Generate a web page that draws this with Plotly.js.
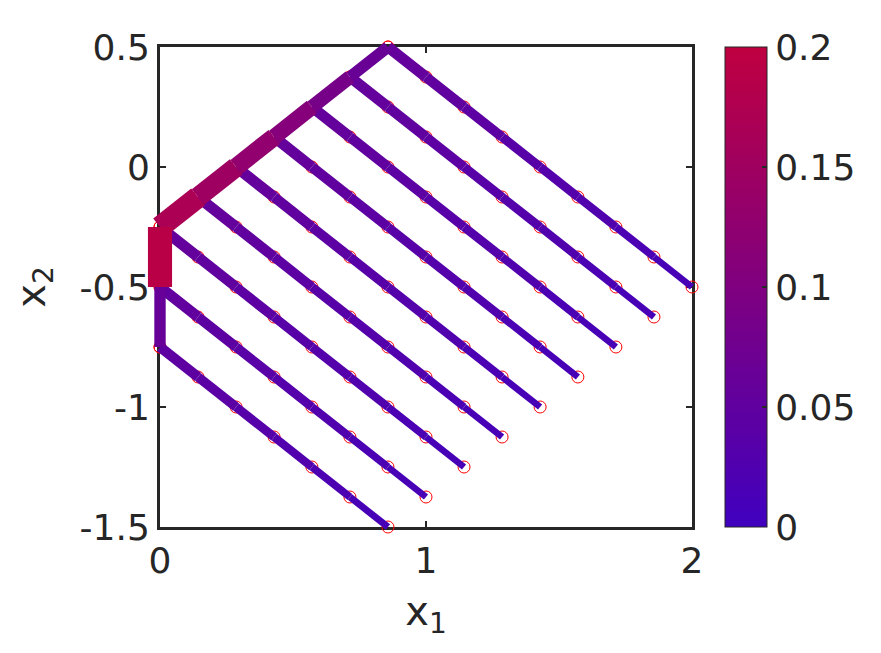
<!DOCTYPE html>
<html>
<head>
<meta charset="utf-8">
<script src="https://cdn.plot.ly/plotly-3.0.1.min.js"></script>
<style>html,body{margin:0;padding:0;background:#fff;}#chart{width:881px;height:653px;}</style>
</head>
<body>
<div id="chart"></div>
<script>
// ---- data: branch node coordinates ----
const branchX = [
  [0.857, 1.000, 1.143, 1.286, 1.429, 1.571, 1.714, 1.857, 2.000],
  [0.714, 0.857, 1.000, 1.143, 1.286, 1.429, 1.571, 1.714, 1.857],
  [0.571, 0.714, 0.857, 1.000, 1.143, 1.286, 1.429, 1.571, 1.714],
  [0.429, 0.571, 0.714, 0.857, 1.000, 1.143, 1.286, 1.429, 1.571],
  [0.286, 0.429, 0.571, 0.714, 0.857, 1.000, 1.143, 1.286, 1.429],
  [0.143, 0.286, 0.429, 0.571, 0.714, 0.857, 1.000, 1.143, 1.286],
  [0.000, 0.143, 0.286, 0.429, 0.571, 0.714, 0.857, 1.000, 1.143],
  [0.000, 0.143, 0.286, 0.429, 0.571, 0.714, 0.857, 1.000],
  [0.000, 0.143, 0.286, 0.429, 0.571, 0.714, 0.857]
];
const branchY = [
  [0.500, 0.375, 0.250, 0.125, 0.000, -0.125, -0.250, -0.375, -0.500],
  [0.375, 0.250, 0.125, 0.000, -0.125, -0.250, -0.375, -0.500, -0.625],
  [0.250, 0.125, 0.000, -0.125, -0.250, -0.375, -0.500, -0.625, -0.750],
  [0.125, 0.000, -0.125, -0.250, -0.375, -0.500, -0.625, -0.750, -0.875],
  [0.000, -0.125, -0.250, -0.375, -0.500, -0.625, -0.750, -0.875, -1.000],
  [-0.125, -0.250, -0.375, -0.500, -0.625, -0.750, -0.875, -1.000, -1.125],
  [-0.250, -0.375, -0.500, -0.625, -0.750, -0.875, -1.000, -1.125, -1.250],
  [-0.500, -0.625, -0.750, -0.875, -1.000, -1.125, -1.250, -1.375],
  [-0.750, -0.875, -1.000, -1.125, -1.250, -1.375, -1.500]
];
// per-segment values along each branch (start -> end)
const branchVals = [
  [0.056, 0.050, 0.044, 0.038, 0.032, 0.026, 0.019, 0.012],
  [0.056, 0.050, 0.044, 0.038, 0.032, 0.026, 0.019, 0.012],
  [0.056, 0.050, 0.044, 0.038, 0.032, 0.026, 0.019, 0.012],
  [0.056, 0.050, 0.044, 0.038, 0.032, 0.026, 0.019, 0.012],
  [0.056, 0.050, 0.044, 0.038, 0.032, 0.026, 0.019, 0.012],
  [0.056, 0.050, 0.044, 0.038, 0.032, 0.026, 0.019, 0.012],
  [0.056, 0.050, 0.044, 0.038, 0.032, 0.026, 0.019, 0.012],
  [0.052, 0.046, 0.040, 0.033, 0.026, 0.019, 0.012],
  [0.048, 0.042, 0.035, 0.028, 0.020, 0.013]
];
// spine: top edge then the left edge
const spineX = [0.857, 0.714, 0.571, 0.429, 0.286, 0.143, 0.000, 0.000, 0.000];
const spineY = [0.500, 0.375, 0.250, 0.125, 0.000, -0.125, -0.250, -0.500, -0.750];
const spineVals = [0.064, 0.086, 0.108, 0.128, 0.148, 0.168, 0.190, 0.060];

const cMin = 0, cMax = 0.2;
const xRange = [0, 2], yRange = [-1.5, 0.5];
const xTicks = [0, 1, 2], xTickText = ['0', '1', '2'];
const yTicks = [0.5, 0, -0.5, -1, -1.5], yTickText = ['0.5', '0', '-0.5', '-1', '-1.5'];
const cbTicks = [0, 0.05, 0.1, 0.15, 0.2], cbTickText = ['0', '0.05', '0.1', '0.15', '0.2'];

// ---- layout geometry (pixels) ----
const W = 881, H = 653;
const box = {l: 160, r: 692, t: 47, b: 527};
const pad = 40; // extra room so thick lines are not clipped at the frame
const pxX = (box.r - box.l) / (xRange[1] - xRange[0]);
const pxY = (box.b - box.t) / (yRange[1] - yRange[0]);

// ---- styling helpers ----
const cLow = [64, 0, 191], cHigh = [191, 0, 64];
function colorOf(v) {
  const t = Math.max(0, Math.min(1, (v - cMin) / (cMax - cMin)));
  const c = cLow.map((a, i) => Math.round(a + (cHigh[i] - a) * t));
  return 'rgb(' + c.join(',') + ')';
}
function widthOf(v) { return 5.5 + 98 * v; }

const traces = [];
// colorbar carrier on the framed axes
traces.push({
  type: 'scatter', mode: 'markers', x: [null], y: [null], xaxis: 'x', yaxis: 'y',
  hoverinfo: 'skip', showlegend: false,
  marker: {
    color: [0], cmin: cMin, cmax: cMax, showscale: true,
    colorscale: [[0, colorOf(cMin)], [1, colorOf(cMax)]],
    colorbar: {
      thickness: 42, thicknessmode: 'pixels',
      len: (box.b - box.t) / H, lenmode: 'fraction',
      x: 725 / W, xanchor: 'left', y: 1 - (box.t + box.b) / 2 / H, yanchor: 'middle',
      xpad: 0, ypad: 0,
      outlinewidth: 1, outlinecolor: '#262626',
      ticks: 'inside', ticklen: 5, tickwidth: 1.5, tickcolor: '#262626',
      tickvals: cbTicks, ticktext: cbTickText,
      tickfont: {family: 'DejaVu Sans', size: 36, color: '#262626'}
    }
  }
});
// node markers (beneath lines)
const allX = [].concat(...branchX, spineX);
const allY = [].concat(...branchY, spineY);
traces.push({
  type: 'scatter', mode: 'markers', x: allX, y: allY, xaxis: 'x2', yaxis: 'y2', hoverinfo: 'skip',
  marker: {symbol: 'circle-open', size: 12, color: '#ff0000', line: {width: 1, color: '#ff0000'}},
  showlegend: false
});
function addSegs(xs, ys, vals) {
  for (let i = 0; i < vals.length; i++) {
    traces.push({
      type: 'scatter', mode: 'lines', x: [xs[i], xs[i + 1]], y: [ys[i], ys[i + 1]],
      xaxis: 'x2', yaxis: 'y2',
      line: {color: colorOf(vals[i]), width: widthOf(vals[i])}, hoverinfo: 'skip', showlegend: false
    });
  }
}
for (let b = 0; b < branchX.length; b++) addSegs(branchX[b], branchY[b], branchVals[b]);
addSegs(spineX, spineY, spineVals);

const axisCommon = {
  showgrid: false, zeroline: false, showline: true, linewidth: 3, linecolor: '#262626',
  mirror: 'ticks', ticks: 'inside', ticklen: 6, tickwidth: 2.5, tickcolor: '#262626',
  tickfont: {family: 'DejaVu Sans', size: 36, color: '#262626'}, fixedrange: true
};
const layout = {
  width: W, height: H,
  margin: {l: 0, r: 0, t: 0, b: 0},
  paper_bgcolor: '#ffffff', plot_bgcolor: 'rgba(0,0,0,0)',
  font: {family: 'DejaVu Sans', color: '#262626'},
  showlegend: false,
  xaxis: Object.assign({}, axisCommon, {
    domain: [box.l / W, box.r / W], anchor: 'y',
    range: xRange, tickvals: xTicks, ticktext: xTickText,
    title: {text: 'x<sub>1</sub>', font: {family: 'DejaVu Sans', size: 40, color: '#262626'}, standoff: 17}
  }),
  yaxis: Object.assign({}, axisCommon, {
    domain: [1 - box.b / H, 1 - box.t / H], anchor: 'x',
    range: yRange, tickvals: yTicks, ticktext: yTickText,
    title: {text: 'x<sub>2</sub>', font: {family: 'DejaVu Sans', size: 40, color: '#262626'}, standoff: 22}
  }),
  xaxis2: {
    visible: false, anchor: 'y2',
    domain: [(box.l - pad) / W, (box.r + pad) / W],
    range: [xRange[0] - pad / pxX, xRange[1] + pad / pxX], fixedrange: true
  },
  yaxis2: {
    visible: false, anchor: 'x2',
    domain: [1 - (box.b + pad) / H, 1 - (box.t - pad) / H],
    range: [yRange[0] - pad / pxY, yRange[1] + pad / pxY], fixedrange: true
  }
};
Plotly.newPlot('chart', traces, layout, {staticPlot: true, displayModeBar: false});
</script>
</body>
</html>
